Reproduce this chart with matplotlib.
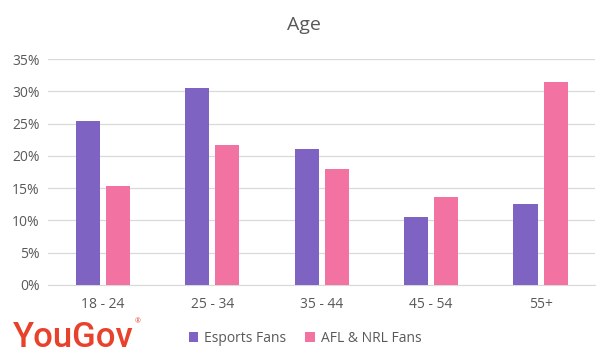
import matplotlib
matplotlib.use("Agg")
import matplotlib.pyplot as plt
import numpy as np
from matplotlib.ticker import PercentFormatter

categories = ["18 - 24", "25 - 34", "35 - 44", "45 - 54", "55+"]
esports = [25.4, 30.5, 21.0, 10.5, 12.6]
afl_nrl = [15.3, 21.7, 18.0, 13.6, 31.4]
series_names = ["Esports Fans", "AFL & NRL Fans"]

plt.rcParams['font.family'] = ['Open Sans', 'DejaVu Sans']
txt = '#595959'
purple = '#7E63C2'
pink = '#F272A1'

fig = plt.figure(figsize=(6.04, 3.58), dpi=100)
ax = fig.add_axes([0.0795, 0.204, 0.906, 0.631])

x = np.arange(len(categories))
w = 0.22
gap = 0.055
ax.bar(x - (w + gap) / 2, esports, width=w, color=purple, label=series_names[0], zorder=3)
ax.bar(x + (w + gap) / 2, afl_nrl, width=w, color=pink, label=series_names[1], zorder=3)

ax.set_xlim(-0.5, len(categories) - 0.5)
ax.set_ylim(0, 35)
ax.set_yticks(np.arange(0, 36, 5))
ax.yaxis.set_major_formatter(PercentFormatter(decimals=0))
ax.set_xticks(x)
ax.set_xticklabels(categories)
ax.grid(axis='y', color='#D9D9D9', linewidth=0.9, zorder=0)
for s in ['top', 'right', 'left']:
    ax.spines[s].set_visible(False)
ax.spines['bottom'].set_color('#D9D9D9')
ax.tick_params(axis='both', length=0, labelsize=10, colors=txt)
ax.tick_params(axis='x', pad=9)
ax.tick_params(axis='y', pad=6)

fig.text(0.503, 0.93, "Age", ha='center', va='center', fontsize=14, color=txt)

fig.legend(loc='center', bbox_to_anchor=(0.505, 0.055), ncol=2, frameon=False,
           fontsize=10, labelcolor=txt, handlelength=0.7, handleheight=0.7,
           handletextpad=0.4, columnspacing=1.4)

logo = fig.text(0.022, 0.031, "YouGov", ha='left', va='baseline', fontsize=25,
                color='#E8412C', family=['Roboto', 'DejaVu Sans'], fontweight='medium')
fig.canvas.draw()
bb = logo.get_window_extent()
fig.text((bb.x1 + 1) / fig.bbox.width, 0.1, "®", ha='left', va='center',
         fontsize=5, color='#E8412C')

fig.savefig("out.png", dpi=100)
